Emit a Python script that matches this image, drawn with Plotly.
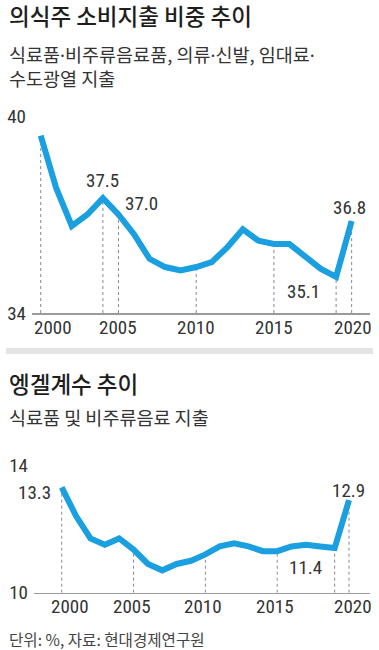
import plotly.graph_objects as go

# ---------------- data ----------------
years = list(range(2000, 2021))
share_values = [39.4, 37.8, 36.65, 37.0, 37.5, 37.0, 36.4, 35.65, 35.4, 35.3, 35.4,
                35.55, 36.0, 36.55, 36.2, 36.1, 36.1, 35.7, 35.35, 35.1, 36.8]
engel_values = [13.3, 12.4, 11.7, 11.5, 11.7, 11.35, 10.9, 10.7, 10.9, 11.0, 11.2,
                11.45, 11.55, 11.45, 11.3, 11.3, 11.45, 11.5, 11.45, 11.4, 12.9]

x_tick_years = [2000, 2005, 2010, 2015, 2020]
share_y_ticks = [34, 40]
engel_y_ticks = [10, 14]

share_drop_years = [2000, 2004, 2005, 2010, 2015, 2019, 2020]
engel_drop_years = [2000, 2005, 2010, 2015, 2019, 2020]

share_label_years = [2004, 2005, 2019, 2020]
engel_label_years = [2000, 2019, 2020]

DOT = '<span style="font-family:Noto Sans">·</span>'
title1 = "의식주 소비지출 비중 추이"
subtitle1 = f"식료품{DOT}비주류음료품, 의류{DOT}신발, 임대료{DOT}<br>수도광열 지출"
title2 = "엥겔계수 추이"
subtitle2 = "식료품 및 비주류음료 지출"
footer = "단위: %, 자료: 현대경제연구원"

# ---------------- style ----------------
W, H = 379, 650
BLUE = "#1a9fe0"
TXT = "#333333"
NUM_FONT = "Roboto Condensed, DejaVu Sans Condensed, sans-serif"
KR_FONT = "Noto Sans CJK KR, Noto Sans, sans-serif"
NUM_SIZE = 19


def px_x(p):
    return p / W


def px_y(p):
    return 1 - p / H


share_label_style = {2004: ("center", 0, 18), 2005: ("left", 5, 11),
                     2019: ("right", -14, -15), 2020: ("center", -2, 14)}
engel_label_style = {2000: ("right", -9, -5), 2019: ("right", -11, -19),
                     2020: ("center", -1, 10)}
# horizontal nudges of the year labels
share_tick_shift = {2000: 12, 2005: 0, 2010: 0, 2015: 0, 2020: 1}
engel_tick_shift = {2000: 8, 2005: -2, 2010: -2, 2015: -2, 2020: 4}

fig = go.Figure()

fig.add_trace(go.Scatter(x=years, y=share_values, mode="lines",
                         line=dict(color=BLUE, width=6), xaxis="x", yaxis="y",
                         hoverinfo="skip"))
fig.add_trace(go.Scatter(x=years, y=engel_values, mode="lines",
                         line=dict(color=BLUE, width=6), xaxis="x2", yaxis="y2",
                         hoverinfo="skip"))

shapes = []
for yr in share_drop_years:
    v = share_values[years.index(yr)]
    shapes.append(dict(type="line", xref="x", yref="y", x0=yr, x1=yr,
                       y0=share_y_ticks[0], y1=v, layer="below",
                       line=dict(color="#8a8a8a", width=1, dash="dot")))
for yr in engel_drop_years:
    v = engel_values[years.index(yr)]
    shapes.append(dict(type="line", xref="x2", yref="y2", x0=yr, x1=yr,
                       y0=engel_y_ticks[0], y1=v, layer="below",
                       line=dict(color="#8a8a8a", width=1, dash="dot")))
shapes.append(dict(type="rect", xref="paper", yref="paper",
                   x0=px_x(6), x1=px_x(373), y0=px_y(354), y1=px_y(348),
                   fillcolor="#e5e5e5", line=dict(width=0), layer="below"))

annotations = []


def txt(x, y, text, size, font=KR_FONT, color=TXT, weight=400):
    annotations.append(dict(xref="paper", yref="paper", x=px_x(x), y=px_y(y),
                            text=text, showarrow=False, xanchor="left",
                            yanchor="middle", align="left",
                            font=dict(family=font, size=size, color=color,
                                      weight=weight)))


txt(7, 15, title1, 22.5, color="#1e1e1e", weight=500)
txt(7, 66, subtitle1, 18.5)
txt(7, 383, title2, 22.5, color="#1e1e1e", weight=500)
txt(7, 416.5, subtitle2, 18.5)
txt(7, 639, footer, 15.6, color="#444444")


def num_label(xref, yref, x, y, text, xa, xs, ys):
    annotations.append(dict(xref=xref, yref=yref, x=x, y=y, text=text,
                            showarrow=False, xanchor=xa, yanchor="middle",
                            xshift=xs, yshift=ys,
                            font=dict(family=NUM_FONT, size=NUM_SIZE, color=TXT)))


for yr in share_label_years:
    v = share_values[years.index(yr)]
    xa, xs, ys = share_label_style[yr]
    num_label("x", "y", yr, v, f"{v:.1f}", xa, xs, ys)
for yr in engel_label_years:
    v = engel_values[years.index(yr)]
    xa, xs, ys = engel_label_style[yr]
    num_label("x2", "y2", yr, v, f"{v:.1f}", xa, xs, ys)

# year labels under each axis
for yr in x_tick_years:
    num_label("x", "y", yr, share_y_ticks[0], str(yr), "center",
              share_tick_shift[yr], -14)
    num_label("x2", "y2", yr, engel_y_ticks[0], str(yr), "center",
              engel_tick_shift[yr], -14)

xaxis_common = dict(tickvals=x_tick_years, ticks="", showticklabels=False,
                    showgrid=False, zeroline=False, showline=True,
                    linecolor="#9a9a9a", linewidth=1.5, fixedrange=True,
                    automargin=False)
yaxis_common = dict(ticks="inside", ticklen=5, tickcolor="#9a9a9a", tickwidth=1,
                    showgrid=False, zeroline=False, showline=False,
                    ticklabelstandoff=5, fixedrange=True, automargin=False,
                    tickfont=dict(family=NUM_FONT, size=NUM_SIZE, color=TXT))

fig.update_layout(
    template="none",
    width=W, height=H, autosize=False,
    margin=dict(l=0, r=0, t=0, b=0, pad=0),
    paper_bgcolor="white", plot_bgcolor="rgba(0,0,0,0)",
    showlegend=False,
    xaxis=dict(domain=[px_x(32), px_x(370)], range=[1999.44, 2021.18],
               anchor="y", **xaxis_common),
    yaxis=dict(domain=[px_y(313), px_y(116)], range=[34, 40],
               tickvals=share_y_ticks, anchor="x", **yaxis_common),
    xaxis2=dict(domain=[px_x(34), px_x(370)], range=[1998.07, 2021.46],
                anchor="y2", **xaxis_common),
    yaxis2=dict(domain=[px_y(592.7), px_y(465)], range=[10, 14],
                tickvals=engel_y_ticks, anchor="x2", **yaxis_common),
    shapes=shapes,
    annotations=annotations,
)

fig.write_html("out.html", config=dict(displayModeBar=False, staticPlot=True),
               post_script="document.body.style.margin='0';"
                           "document.body.style.overflow='hidden';")
